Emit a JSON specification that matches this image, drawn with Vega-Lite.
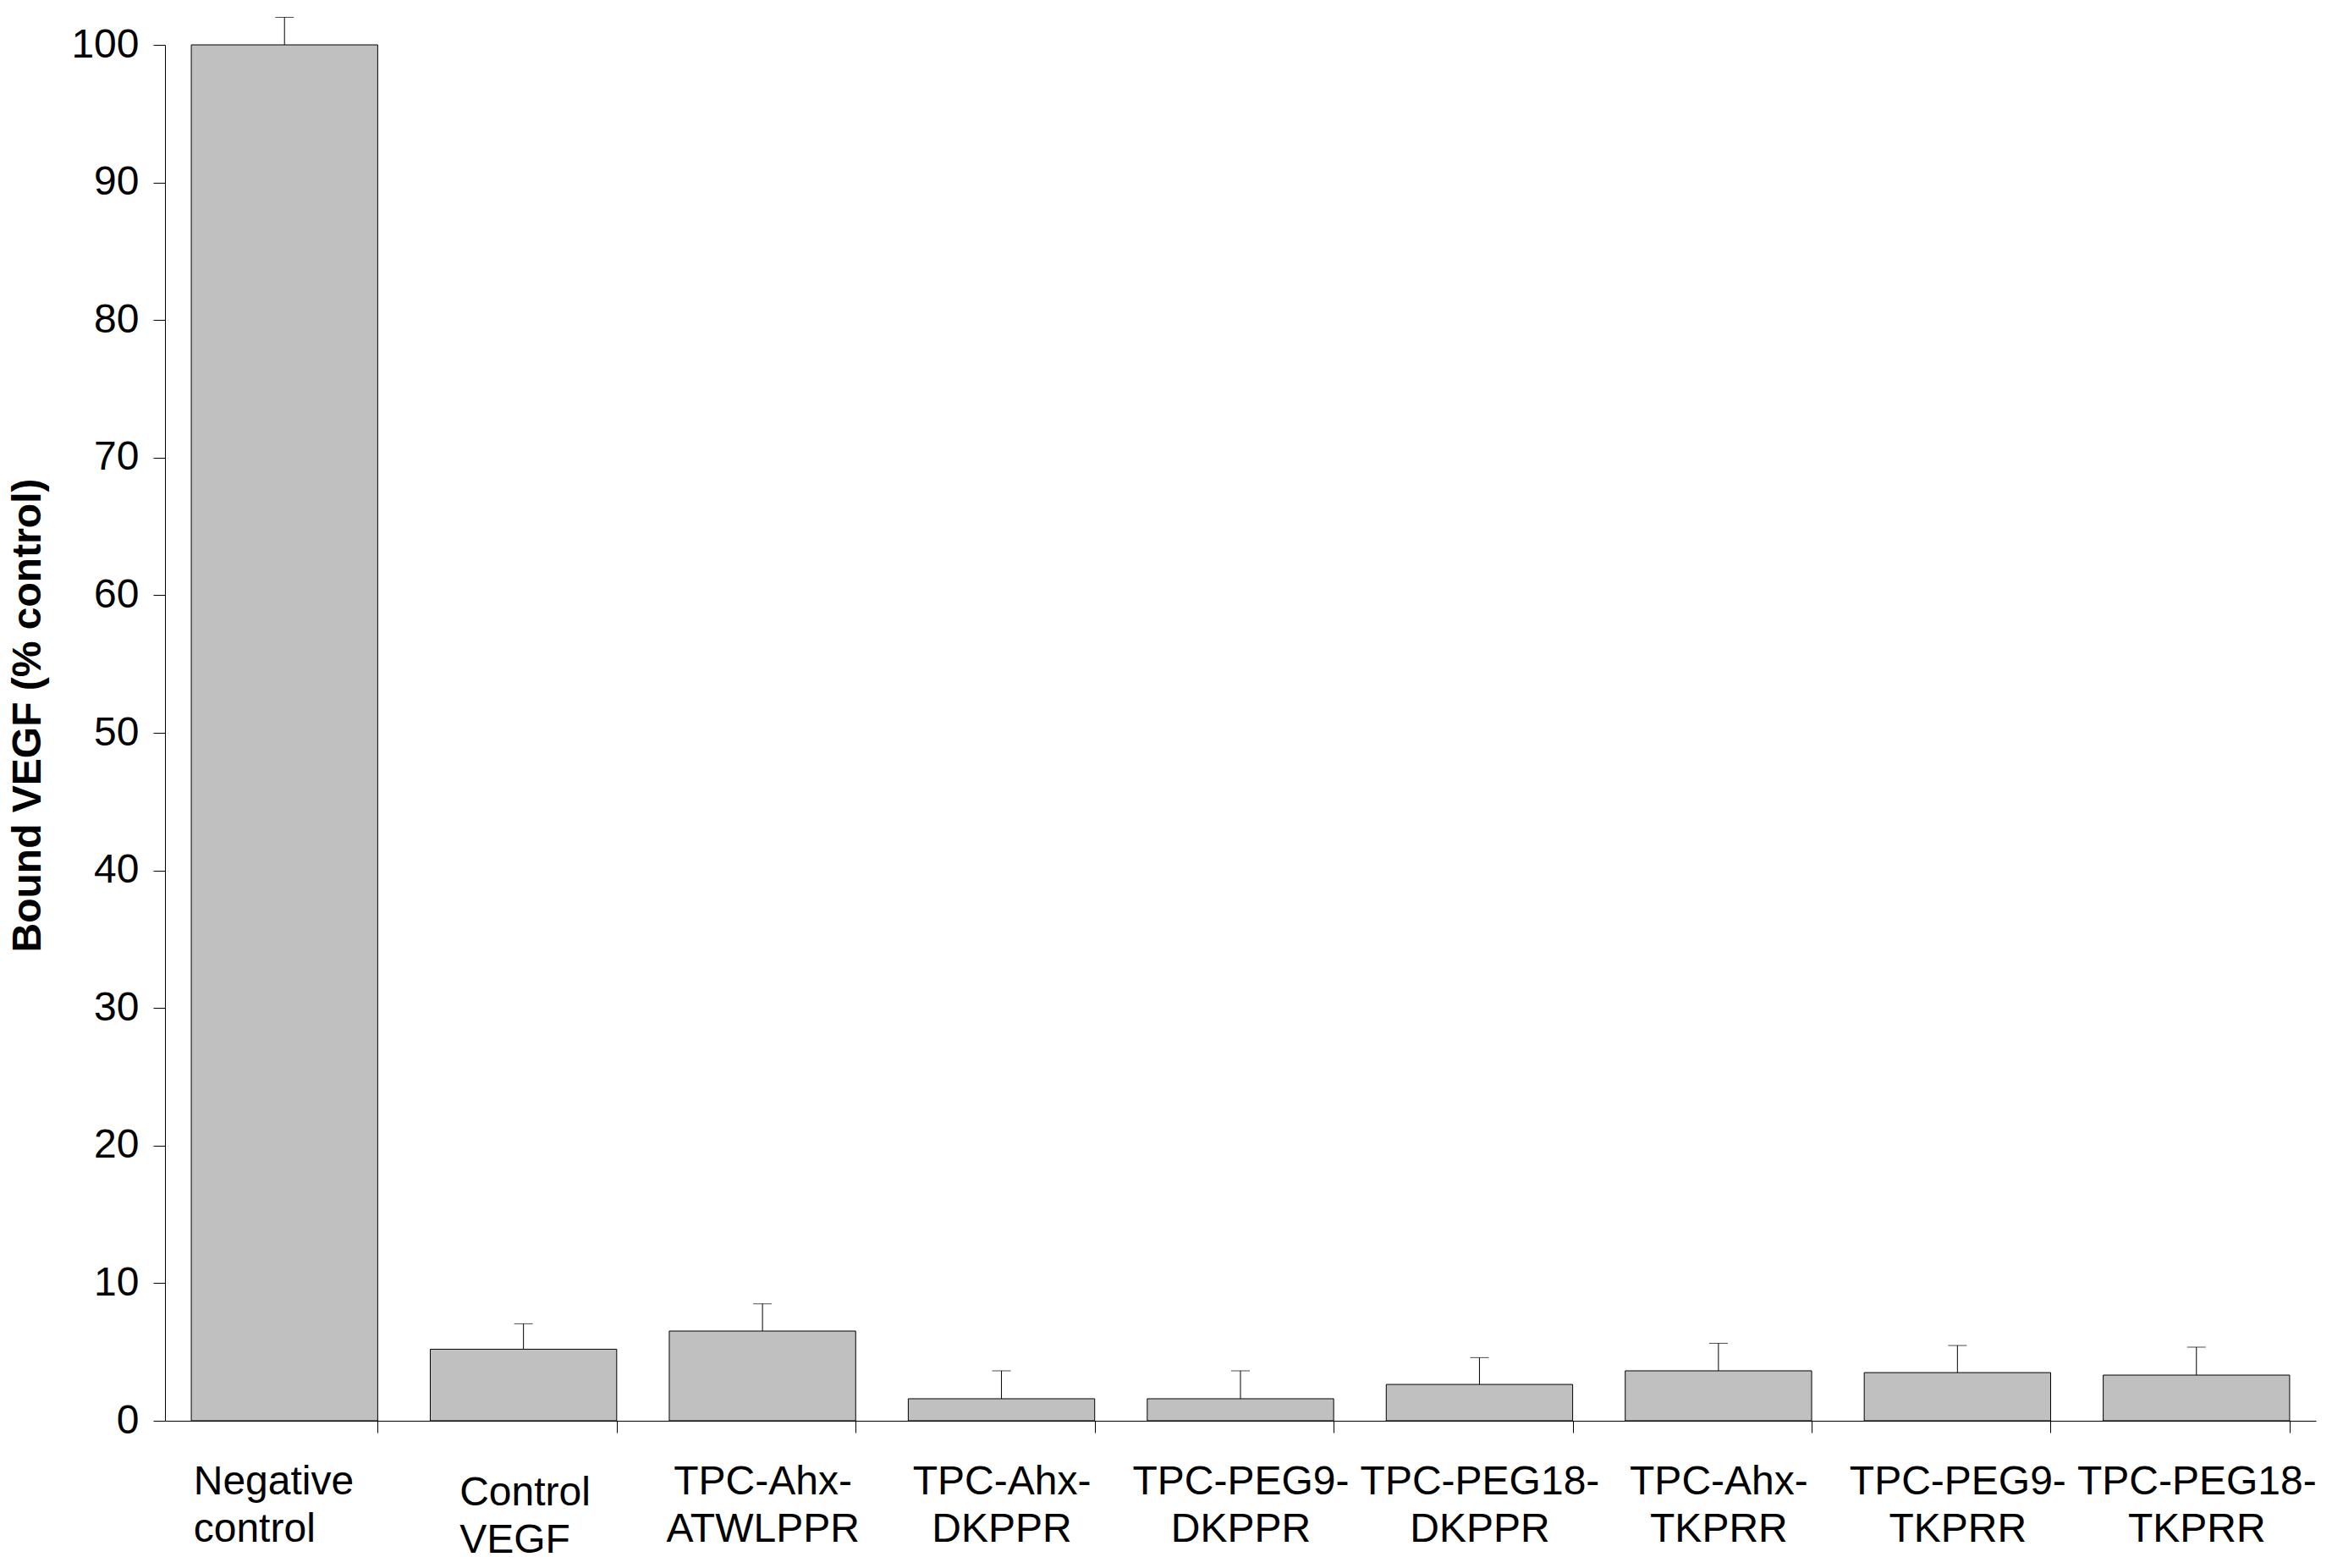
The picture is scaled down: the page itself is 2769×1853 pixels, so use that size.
{
  "$schema": "https://vega.github.io/schema/vega-lite/v6.json",
  "width": 2542,
  "height": 1626,
  "autosize": {"type": "none"},
  "padding": {"left": 195, "top": 53, "right": 32, "bottom": 174},
  "background": "white",
  "config": {"view": {"stroke": null}, "font": "Liberation Sans"},
  "data": {
    "values": [
      {"group": "Negative control", "value": 100, "upper": 102},
      {"group": "Control VEGF", "value": 5.2, "upper": 7.05},
      {"group": "TPC-Ahx-ATWLPPR", "value": 6.52, "upper": 8.5},
      {"group": "TPC-Ahx-DKPPR", "value": 1.6, "upper": 3.63},
      {"group": "TPC-PEG9-DKPPR", "value": 1.6, "upper": 3.63},
      {"group": "TPC-PEG18-DKPPR", "value": 2.64, "upper": 4.59},
      {"group": "TPC-Ahx-TKPRR", "value": 3.63, "upper": 5.63},
      {"group": "TPC-PEG9-TKPRR", "value": 3.5, "upper": 5.47},
      {"group": "TPC-PEG18-TKPRR", "value": 3.32, "upper": 5.35}
    ]
  },
  "encoding": {
    "x": {
      "field": "group",
      "type": "nominal",
      "sort": null,
      "scale": {"paddingInner": 0.22, "paddingOuter": 0.11},
      "axis": {
        "title": null,
        "labelAngle": 0,
        "tickBand": "extent",
        "tickSize": 14,
        "tickColor": {"condition": {"test": "datum.index < 0", "value": "transparent"}, "value": "black"},
        "tickWidth": 1,
        "domainColor": "black",
        "domainWidth": 1,
        "labelPadding": {"condition": {"test": "datum.value == 'Control VEGF'", "value": 47}, "value": 34},
        "labelAlign": {"condition": {"test": "datum.value == 'Negative control' || datum.value == 'Control VEGF'", "value": "left"}, "value": "center"},
        "labelOffset": {"condition": [{"test": "datum.value == 'Negative control'", "value": -108}, {"test": "datum.value == 'Control VEGF'", "value": -76}], "value": 0},
        "labelFont": "Liberation Sans",
        "labelFontSize": 48,
        "labelColor": "black",
        "labelLineHeight": 56,
        "labelBaseline": "top",
        "labelLimit": 0,
        "labelOverlap": false,
        "labelExpr": "indexof(datum.label, 'TPC') == 0 ? [slice(datum.label, 0, lastindexof(datum.label, '-') + 1), slice(datum.label, lastindexof(datum.label, '-') + 1)] : split(datum.label, ' ')"
      }
    },
    "y": {
      "field": "value",
      "type": "quantitative",
      "title": "Bound VEGF (% control)",
      "scale": {"domain": [0, 100], "nice": false},
      "axis": {
        "values": [0, 10, 20, 30, 40, 50, 60, 70, 80, 90, 100],
        "grid": false,
        "titleFont": "Liberation Sans",
        "titleFontSize": 48,
        "titleFontWeight": "bold",
        "titleColor": "black",
        "titleAngle": -90,
        "titleAlign": "center",
        "titleBaseline": "bottom",
        "titleX": -138,
        "titleY": 792,
        "labelFont": "Liberation Sans",
        "labelFontSize": 48,
        "labelColor": "black",
        "labelPadding": 17,
        "tickSize": 14,
        "tickColor": "black",
        "tickWidth": 1,
        "domainColor": "black",
        "domainWidth": 1
      }
    }
  },
  "layer": [
    {
      "mark": {"type": "bar", "fill": "#c0c0c0", "stroke": "black", "strokeWidth": 1}
    },
    {
      "mark": {"type": "rule", "color": "black", "strokeWidth": 1},
      "encoding": {"y2": {"field": "upper"}}
    },
    {
      "mark": {"type": "tick", "color": "black", "thickness": 1, "size": 22, "orient": "horizontal"},
      "encoding": {"y": {"field": "upper", "type": "quantitative", "title": "Bound VEGF (% control)"}}
    }
  ]
}
